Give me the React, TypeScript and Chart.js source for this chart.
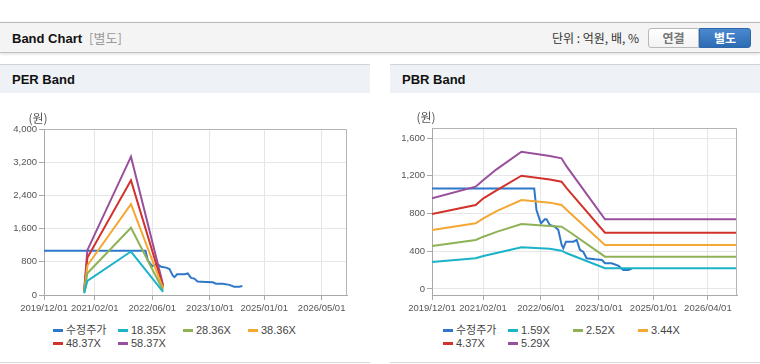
import React, { useEffect, useRef } from 'react';
import { Chart, registerables } from 'chart.js';

Chart.register(...registerables);

// ---------- data ----------
const PRICE_LABEL = '수정주가';
const UNIT_LABEL = '(원)';

const priceDates = ['2019-12-01', '2022-04-06', '2022-04-25', '2022-06-01', '2022-07-04', '2022-07-18', '2022-08-15', '2022-09-28', '2022-10-25', '2022-11-22', '2022-12-06', '2022-12-28', '2023-02-28', '2023-03-28', '2023-04-25', '2023-05-22', '2023-06-19', '2023-08-28', '2023-10-25', '2023-11-21', '2024-01-16', '2024-03-13', '2024-04-22', '2024-06-04', '2024-07-01'];
const priceValues = [1065, 1065, 837, 696, 738, 738, 678, 660, 625, 466, 431, 501, 501, 519, 413, 395, 325, 314, 307, 272, 272, 244, 201, 201, 215];

const perBandLabels = ['18.35X', '28.36X', '38.36X', '48.37X', '58.37X'];
const perBandDates = ['2020-11-04', '2020-12-01', '2021-12-04', '2022-09-01'];
const per1835 = [40, 340, 1048, 75];
const per2836 = [60, 525, 1619, 116];
const per3836 = [80, 710, 2190, 157];
const per4837 = [100, 895, 2762, 198];
const per5837 = [120, 1080, 3333, 239];

const pbrBandLabels = ['1.59X', '2.52X', '3.44X', '4.37X', '5.29X'];
const pbrBandDates = ['2019-12-01', '2020-12-01', '2021-02-04', '2021-05-25', '2021-12-20', '2022-08-15', '2022-11-21', '2023-01-04', '2023-11-20', '2026-12-01'];
const pbr159 = [286, 325, 350, 382, 442, 427, 406, 378, 219, 219];
const pbr252 = [456, 519, 554, 605, 689, 668, 660, 625, 342, 342];
const pbr344 = [625, 696, 749, 825, 943, 915, 890, 837, 466, 466];
const pbr437 = [795, 890, 961, 1045, 1200, 1160, 1137, 1067, 597, 597];
const pbr529 = [961, 1084, 1155, 1268, 1455, 1410, 1385, 1296, 738, 738];

const perYTicks = [0, 800, 1600, 2400, 3200, 4000];
const pbrYTicks = [0, 400, 800, 1200, 1600];
const perXTickLabels = ['2019/12/01', '2021/02/01', '2022/06/01', '2023/10/01', '2025/01/01', '2026/05/01'];
const pbrXTickLabels = ['2019/12/01', '2021/02/01', '2022/06/01', '2023/10/01', '2025/01/01', '2026/04/01'];
const X_MIN = '2019-12-01';
const X_MAX = '2026-12-01';

const PRICE_COLOR = '#2f77c8';
const BAND_COLORS = ['#1bb3c8', '#8eb255', '#f4a733', '#d2322b', '#984f9c'];

// ---------- helpers ----------
const ts = (s: string) => Date.parse(s.replace(/\//g, '-') + 'T00:00:00Z');
const UI_FONT = "'Liberation Sans', 'Noto Sans CJK KR', sans-serif";
const KR_FONT = "'Noto Sans CJK KR', 'Liberation Sans', sans-serif";
const TICK_FONT = { family: "'Liberation Sans', sans-serif", size: 9.5 };

const framePlugin = {
  id: 'frameAndUnit',
  afterDraw(chart: any) {
    const { ctx, chartArea: a } = chart;
    ctx.save();
    ctx.strokeStyle = '#b4b4b4';
    ctx.lineWidth = 1;
    const t = Math.round(a.top) + 0.5;
    const r = Math.round(a.right) - 0.5;
    ctx.beginPath();
    ctx.moveTo(a.left, t);
    ctx.lineTo(r, t);
    ctx.lineTo(r, a.bottom);
    ctx.stroke();
    ctx.fillStyle = '#555';
    ctx.font = "12px 'Noto Sans CJK KR'";
    ctx.textAlign = 'center';
    ctx.textBaseline = 'middle';
    ctx.fillText(UNIT_LABEL, a.left - 6, a.top - 11);
    ctx.restore();
  },
};

type BandProps = {
  left: number;
  bandLabels: string[];
  bandDates: string[];
  bandValues: number[][];
  yTicks: number[];
  yMin: number;
  yMax: number;
  xTickLabels: string[];
  yAxisWidth: number;
  padTop: number;
  title: string;
};

function BandPanel(p: BandProps) {
  const ref = useRef<HTMLCanvasElement>(null);
  useEffect(() => {
    const xTickValues = p.xTickLabels.map(ts);
    const datasets: any[] = p.bandLabels.map((label, i) => ({
      label,
      data: p.bandDates.map((d, j) => ({ x: ts(d), y: p.bandValues[i][j] })),
      borderColor: BAND_COLORS[i],
      backgroundColor: BAND_COLORS[i],
      borderWidth: 2,
      pointRadius: 0,
      fill: false,
      tension: 0,
    }));
    datasets.push({
      label: PRICE_LABEL,
      data: priceDates.map((d, j) => ({ x: ts(d), y: priceValues[j] })),
      borderColor: PRICE_COLOR,
      backgroundColor: PRICE_COLOR,
      borderWidth: 2,
      pointRadius: 0,
      fill: false,
      tension: 0,
    });
    const chart = new Chart(ref.current as HTMLCanvasElement, {
      type: 'line',
      data: { datasets },
      options: {
        animation: false,
        responsive: false,
        maintainAspectRatio: false,
        layout: { padding: { top: p.padTop, right: 23, left: 0, bottom: 0 } },
        plugins: { legend: { display: false }, tooltip: { enabled: false } },
        scales: {
          x: {
            type: 'linear',
            min: ts(X_MIN),
            max: ts(X_MAX),
            afterBuildTicks: (s: any) => {
              s.ticks = xTickValues.map((v) => ({ value: v }));
            },
            afterFit: (s: any) => {
              s.height = 28;
            },
            ticks: {
              autoSkip: false,
              maxRotation: 0,
              padding: 3,
              color: '#555',
              font: TICK_FONT,
              callback: (_v: any, i: number) => p.xTickLabels[i],
            },
            grid: { color: '#e6e6e6', tickLength: 5, tickColor: '#a8a8a8' },
            border: { color: '#a8a8a8' },
          },
          y: {
            type: 'linear',
            min: p.yMin,
            max: p.yMax,
            afterBuildTicks: (s: any) => {
              s.ticks = p.yTicks.map((v) => ({ value: v }));
            },
            afterFit: (s: any) => {
              s.width = p.yAxisWidth;
            },
            ticks: {
              padding: 2,
              color: '#555',
              font: TICK_FONT,
              callback: (v: any) => Number(v).toLocaleString('en-US'),
            },
            grid: { color: '#e6e6e6', tickLength: 5, tickColor: '#a8a8a8' },
            border: { color: '#a8a8a8' },
          },
        },
      } as any,
      plugins: [framePlugin],
    });
    return () => chart.destroy();
  }, []);

  const legendItems = [PRICE_LABEL, ...p.bandLabels];
  const legendColors = [PRICE_COLOR, ...BAND_COLORS];

  return (
    <>
      <div
        style={{
          position: 'absolute',
          left: p.left,
          top: 64,
          width: 370,
          height: 28,
          borderTop: '1px solid #d0d4d9',
          background: '#eef2f7',
        }}
      >
        <div
          style={{
            position: 'absolute',
            left: 12,
            top: 0,
            lineHeight: '29px',
            fontSize: 13,
            fontWeight: 'bold',
            color: '#111',
            fontFamily: UI_FONT,
          }}
        >
          {p.title}
        </div>
      </div>
      <canvas
        ref={ref}
        width={370}
        height={230}
        style={{ position: 'absolute', left: p.left, top: 93, width: 370, height: 230 }}
      />
      {legendItems.map((label, i) => (
        <div
          key={label}
          style={{
            position: 'absolute',
            left: p.left + 53 + (i % 4) * 65,
            top: 323 + Math.floor(i / 4) * 13,
            height: 14,
            display: 'flex',
            alignItems: 'center',
            whiteSpace: 'nowrap',
          }}
        >
          <span style={{ display: 'inline-block', width: 10, height: 3, background: legendColors[i], marginRight: 3 }} />
          <span style={{ fontSize: 11, color: '#444', fontFamily: UI_FONT, lineHeight: '14px' }}>{label}</span>
        </div>
      ))}
      <div style={{ position: 'absolute', left: p.left, top: 362, width: 370, height: 1, background: '#d8d8d8' }} />
    </>
  );
}

export default function App() {
  return (
    <div
      style={{
        position: 'absolute',
        left: 0,
        top: 0,
        width: 760,
        height: 364,
        background: '#fff',
        overflow: 'hidden',
        fontFamily: UI_FONT,
      }}
    >
      {/* header bar */}
      <div
        style={{
          position: 'absolute',
          left: 0,
          top: 22,
          width: 760,
          height: 29,
          background: '#f4f4f4',
          borderTop: '1px solid #b8b8b8',
          borderBottom: '1px solid #c2c2c2',
          boxShadow: '0 1px 3px rgba(0,0,0,0.15)',
        }}
      >
        <div style={{ position: 'absolute', left: 12, top: 0, lineHeight: '29px', whiteSpace: 'nowrap' }}>
          <span style={{ fontSize: 13, fontWeight: 'bold', color: '#111' }}>Band Chart</span>
          <span style={{ fontSize: 13, color: '#999', marginLeft: 7, fontFamily: KR_FONT }}>[별도]</span>
        </div>
        <div
          style={{
            position: 'absolute',
            left: 552,
            top: 0,
            lineHeight: '29px',
            fontSize: 12,
            color: '#333',
            fontFamily: KR_FONT,
            whiteSpace: 'nowrap',
          }}
        >
          단위 : 억원, 배, %
        </div>
        <div
          style={{
            position: 'absolute',
            left: 648,
            top: 5,
            width: 49,
            height: 18,
            border: '1px solid #b9b9b9',
            borderRadius: '3px 0 0 3px',
            background: 'linear-gradient(#ffffff, #f3f3f3)',
            textAlign: 'center',
            lineHeight: '18px',
            fontSize: 12,
            fontWeight: 'bold',
            color: '#777',
            fontFamily: KR_FONT,
          }}
        >
          연결
        </div>
        <div
          style={{
            position: 'absolute',
            left: 699,
            top: 5,
            width: 50,
            height: 18,
            border: '1px solid #2e68ab',
            borderRadius: '0 3px 3px 0',
            background: 'linear-gradient(#4a89cf, #2d6bb3)',
            textAlign: 'center',
            lineHeight: '18px',
            fontSize: 12,
            fontWeight: 'bold',
            color: '#fff',
            fontFamily: KR_FONT,
          }}
        >
          별도
        </div>
      </div>

      <BandPanel
        left={0}
        title="PER Band"
        bandLabels={perBandLabels}
        bandDates={perBandDates}
        bandValues={[per1835, per2836, per3836, per4837, per5837]}
        yTicks={perYTicks}
        yMin={0}
        yMax={4000}
        xTickLabels={perXTickLabels}
        yAxisWidth={44}
        padTop={36}
      />
      <BandPanel
        left={390}
        title="PBR Band"
        bandLabels={pbrBandLabels}
        bandDates={pbrBandDates}
        bandValues={[pbr159, pbr252, pbr344, pbr437, pbr529]}
        yTicks={pbrYTicks}
        yMin={-64}
        yMax={1706}
        xTickLabels={pbrXTickLabels}
        yAxisWidth={42}
        padTop={35}
      />
    </div>
  );
}
